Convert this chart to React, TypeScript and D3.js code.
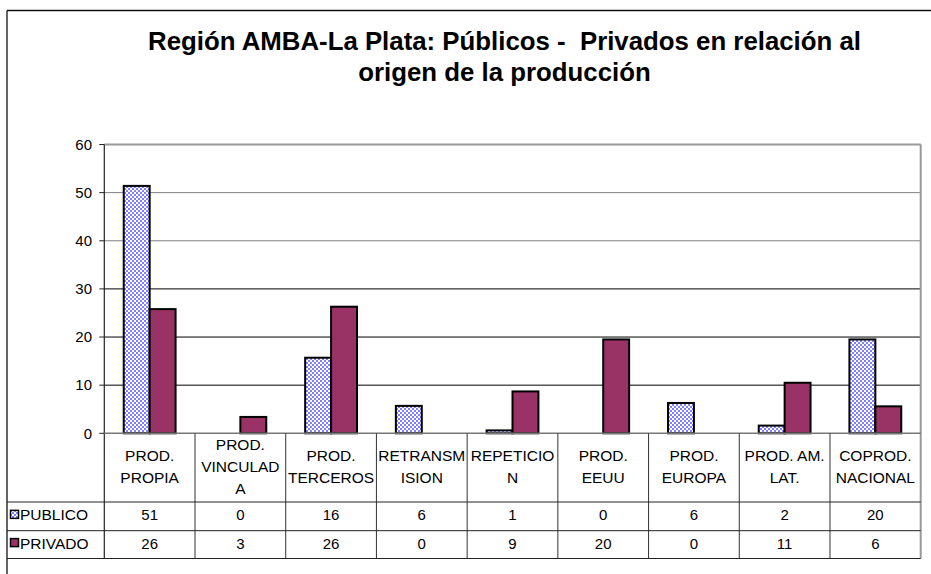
import React from "react";
import * as d3 from "d3";

const categories: string[][] = [
  ["PROD.", "PROPIA"],
  ["PROD.", "VINCULAD", "A"],
  ["PROD.", "TERCEROS"],
  ["RETRANSM", "ISION"],
  ["REPETICIO", "N"],
  ["PROD.", "EEUU"],
  ["PROD.", "EUROPA"],
  ["PROD. AM.", "LAT."],
  ["COPROD.", "NACIONAL"],
];
const publico: number[] = [51.4, 0, 15.7, 5.7, 0.6, 0, 6.3, 1.6, 19.5];
const privado: number[] = [25.8, 3.4, 26.3, 0, 8.7, 19.5, 0, 10.5, 5.6];
const publicoLabels: string[] = ["51", "0", "16", "6", "1", "0", "6", "2", "20"];
const privadoLabels: string[] = ["26", "3", "26", "0", "9", "20", "0", "11", "6"];
const seriesNames: string[] = ["PUBLICO", "PRIVADO"];
const yTicks: number[] = [0, 10, 20, 30, 40, 50, 60];
const titleLines: string[] = [
  "Región AMBA-La Plata: Públicos -  Privados en relación al",
  "origen de la producción",
];

const W = 931;
const H = 574;
const plotL = 104.3;
const plotR = 920.7;
const plotT = 144.5;
const plotB = 433.3;
const headerB = 502;
const row1B = 530.7;
const row2B = 558.5;
const chartL = 7;
const FONT = "Arial, 'Liberation Sans', sans-serif";
const PRIV_COLOR = "#993366";

export default function App() {
  const keys = categories.map((_, i) => String(i));
  const x = d3.scaleBand<string>().domain(keys).range([plotL, plotR]).padding(0);
  const y = d3.scaleLinear().domain([0, 60]).range([plotB, plotT]);
  const bw = x.bandwidth();
  const barW = bw / 3.5;
  const off = barW * 0.75;

  const series = [
    { name: seriesNames[0], values: publico, labels: publicoLabels, fill: "url(#checker)" },
    { name: seriesNames[1], values: privado, labels: privadoLabels, fill: PRIV_COLOR },
  ];
  const rowTops = [headerB, row1B];
  const rowBots = [row1B, row2B];

  return (
    <svg
      width={W}
      height={H}
      viewBox={`0 0 ${W} ${H}`}
      style={{ position: "absolute", left: 0, top: 0, background: "#fff" }}
    >
      <defs>
        <pattern id="checker" width="4" height="4" patternUnits="userSpaceOnUse">
          <rect width="4" height="4" fill="#ffffff" />
          <rect width="2" height="2" fill="#8080ff" />
          <rect x="2" y="2" width="2" height="2" fill="#8080ff" />
        </pattern>
      </defs>
      <rect x={0} y={0} width={W} height={H} fill="#fff" />

      {/* chart border */}
      <line x1={chartL} x2={W + 5} y1={10.5} y2={10.5} stroke="#111" strokeWidth={1.3} />
      <line x1={chartL} x2={chartL} y1={10.5} y2={H + 5} stroke="#111" strokeWidth={1.3} />

      {/* title */}
      {titleLines.map((t, i) => (
        <text key={"ti" + i} x={504.5} y={50.3 + i * 30.5} textAnchor="middle" fontFamily={FONT}
          fontWeight="bold" fontSize={25.8} fill="#000" style={{ whiteSpace: "pre" }}>
          {t}
        </text>
      ))}

      {/* gridlines */}
      {yTicks.filter((t) => t > 0 && t < 60).map((t) => (
        <line key={"g" + t} x1={plotL} x2={plotR} y1={y(t)} y2={y(t)}
          stroke={t >= 40 ? "#808080" : "#000"} strokeWidth={1} />
      ))}
      {/* plot border top/right */}
      <line x1={plotL} x2={plotR} y1={y(60)} y2={y(60)} stroke="#999" strokeWidth={2} />
      <line x1={plotR} x2={plotR} y1={y(60)} y2={row2B} stroke="#999" strokeWidth={2} />

      {/* bars */}
      {series.map((s, si) =>
        s.values.map((v, i) =>
          v > 0 ? (
            <rect key={`b${si}-${i}`} x={(x(keys[i]) as number) + off + si * barW} y={y(v)}
              width={barW} height={y(0) - y(v)} fill={s.fill} stroke="#000" strokeWidth={2} />
          ) : null
        )
      )}

      {/* y axis */}
      <line x1={plotL} x2={plotL} y1={y(60)} y2={row2B} stroke="#222" strokeWidth={1.2} />
      {yTicks.map((t) => (
        <g key={"t" + t}>
          <line x1={plotL - 5} x2={plotL} y1={y(t)} y2={y(t)} stroke="#222" strokeWidth={1} />
          <text x={92} y={y(t) + 5.3} textAnchor="end" fontFamily={FONT} fontSize={15} fill="#000">
            {t}
          </text>
        </g>
      ))}
      {/* x axis line */}
      <line x1={plotL} x2={plotR} y1={plotB} y2={plotB} stroke="#777" strokeWidth={1.5} />

      {/* table lines */}
      {keys.map((k, i) => i > 0 ? (
        <line key={"v" + k} x1={x(k) as number} x2={x(k) as number} y1={plotB} y2={row2B}
          stroke="#333" strokeWidth={1} />
      ) : null)}
      {[headerB, row1B, row2B].map((yy) => (
        <line key={"h" + yy} x1={chartL} x2={plotR} y1={yy} y2={yy} stroke="#222" strokeWidth={1} />
      ))}

      {/* category header text */}
      {categories.map((lines, i) => {
        const cx = (x(keys[i]) as number) + bw / 2;
        const center = 466.5;
        const lh = 22;
        return lines.map((ln, j) => (
          <text key={`c${i}-${j}`} x={cx} y={center + (j - (lines.length - 1) / 2) * lh + 5.6}
            textAnchor="middle" fontFamily={FONT} fontSize={15.5} fill="#000">
            {ln}
          </text>
        ));
      })}

      {/* data rows + legend */}
      {series.map((s, si) => {
        const cy = (rowTops[si] + rowBots[si]) / 2 - 1.5;
        return (
          <g key={"r" + si}>
            <rect x={10.5} y={cy - 4.5} width={8} height={8} fill={s.fill} stroke="#000" strokeWidth={1.5} />
            <text x={20} y={cy + 5.6} fontFamily={FONT} fontSize={15.5} fill="#000">{s.name}</text>
            {s.labels.map((lab, i) => (
              <text key={`d${si}-${i}`} x={(x(keys[i]) as number) + bw / 2} y={cy + 5.4}
                textAnchor="middle" fontFamily={FONT} fontSize={15} fill="#000">
                {lab}
              </text>
            ))}
          </g>
        );
      })}
    </svg>
  );
}
